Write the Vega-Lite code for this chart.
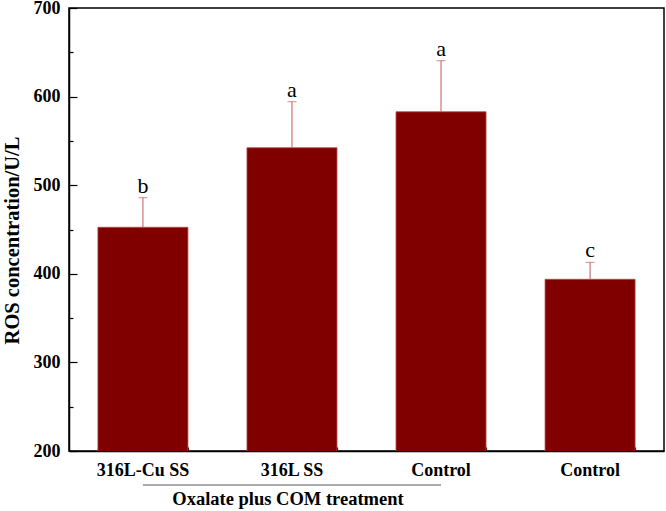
{
  "$schema": "https://vega.github.io/schema/vega-lite/v6.json",
  "width": 595,
  "height": 443,
  "autosize": {"type": "none"},
  "padding": {"left": 69, "top": 8, "right": 2, "bottom": 60},
  "config": {
    "view": {"stroke": "black", "strokeWidth": 1.5},
    "font": "Liberation Serif",
    "axis": {"zindex": 1, "grid": false, "domainColor": "black", "domainWidth": 1.5, "tickColor": "black", "tickWidth": 1.2, "labelColor": "black", "labelFont": "Liberation Serif", "labelFontWeight": "bold", "labelFontSize": 18, "titleFont": "Liberation Serif", "titleColor": "black"}
  },
  "data": {"values": [
    {"sample": "316L-Cu SS", "value": 452.5, "upper": 485.9, "letter": "b"},
    {"sample": "316L SS", "value": 542.3, "upper": 594.2, "letter": "a"},
    {"sample": "Control (oxalate plus COM)", "value": 582.9, "upper": 640.5, "letter": "a"},
    {"sample": "Control", "value": 393.8, "upper": 413.0, "letter": "c"}
  ]},
  "resolve": {"axis": {"x": "independent", "y": "independent"}},
  "layer": [
    {
      "mark": {"type": "bar", "color": "#800000", "stroke": "#b84a4a", "strokeWidth": 0.8, "clip": true},
      "encoding": {
        "x": {"field": "sample", "type": "nominal", "sort": null,
          "scale": {"domain": ["316L-Cu SS", "316L SS", "Control (oxalate plus COM)", "Control"], "paddingInner": 0.396, "paddingOuter": 0.194},
          "axis": {"title": null, "labelExpr": "split(datum.label, ' (')[0]", "labelAngle": 0, "tickSize": -8, "labelPadding": 18, "orient": "bottom"}},
        "y": {"field": "value", "type": "quantitative",
          "scale": {"domain": [200, 700], "nice": false, "zero": false},
          "axis": {"values": [200, 300, 400, 500, 600, 700], "tickSize": -8, "labelPadding": 17, "orient": "left",
            "title": "ROS concentration/U/L", "titleFontSize": 20.5, "titleFontWeight": "bold", "titleAngle": -90, "titleBaseline": "alphabetic", "titleAlign": "center", "titleX": -51, "titleY": 232}}
      }
    },
    {
      "mark": {"type": "rule", "color": "#c05a5a", "strokeWidth": 1},
      "encoding": {
        "x": {"field": "sample", "type": "nominal", "sort": null,
          "axis": {"title": null, "labels": false, "domain": false, "tickBand": "extent", "tickSize": -4, "orient": "bottom"}},
        "y": {"field": "value", "type": "quantitative",
          "axis": {"title": null, "labels": false, "domain": false, "values": [250, 350, 450, 550, 650], "tickSize": -4, "orient": "left"}},
        "y2": {"field": "upper"}
      }
    },
    {
      "mark": {"type": "tick", "color": "#c05a5a", "size": 9, "thickness": 1},
      "encoding": {
        "x": {"field": "sample", "type": "nominal", "sort": null, "axis": null},
        "y": {"field": "upper", "type": "quantitative", "axis": null}
      }
    },
    {
      "mark": {"type": "text", "font": "Liberation Serif", "fontSize": 22, "baseline": "alphabetic", "dy": -5, "color": "black"},
      "encoding": {
        "x": {"field": "sample", "type": "nominal", "sort": null, "axis": null},
        "y": {"field": "upper", "type": "quantitative", "axis": null},
        "text": {"field": "letter"}
      }
    },
    {
      "data": {"values": [{"start": "316L-Cu SS", "end": "Control (oxalate plus COM)", "mid": "316L SS", "label": "Oxalate plus COM treatment"}]},
      "layer": [
        {
          "mark": {"type": "rule", "color": "#555555", "strokeWidth": 1},
          "encoding": {
            "x": {"field": "start", "type": "nominal", "axis": null},
            "x2": {"field": "end"},
            "y": {"datum": 161.6, "type": "quantitative", "axis": null}
          }
        },
        {
          "mark": {"type": "text", "font": "Liberation Serif", "fontWeight": "bold", "fontSize": 18.5, "baseline": "alphabetic", "dx": -4, "color": "black"},
          "encoding": {
            "x": {"field": "mid", "type": "nominal", "axis": null},
            "y": {"datum": 139.1, "type": "quantitative", "axis": null},
            "text": {"field": "label"}
          }
        }
      ]
    }
  ]
}
